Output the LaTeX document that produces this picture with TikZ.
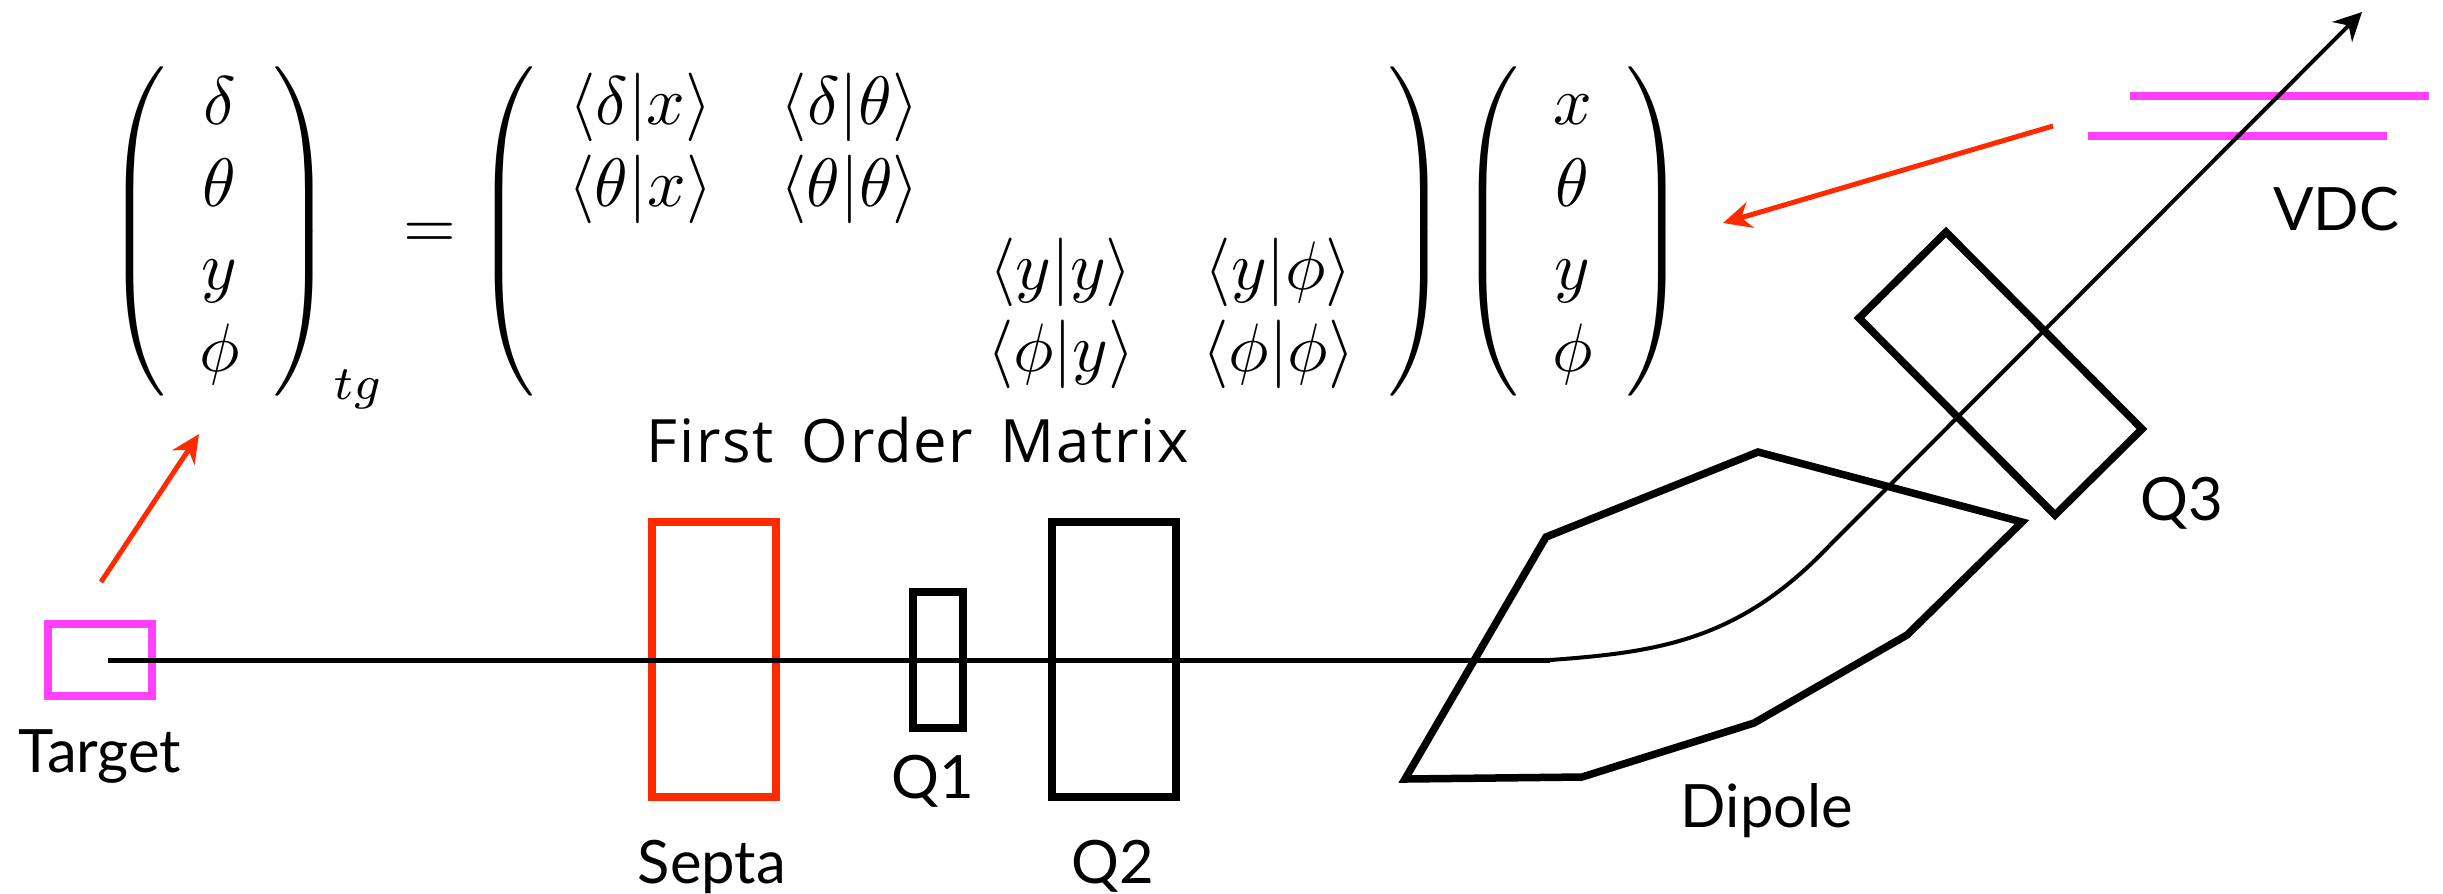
\documentclass[tikz,border=0pt]{standalone}
\usepackage{amsmath}
\usepackage[no-math]{fontspec}
\setmainfont{Lato}
\newfontfamily\handfont[LetterSpace=3,WordSpace=1.6]{Open Sans}
\usepackage{tikz}
\usetikzlibrary{arrows.meta}
\definecolor{septared}{HTML}{FF2A00}
\definecolor{tgmagenta}{HTML}{FF40FF}
\tikzset{
  % --- boxes and labels --------------------------------------------------
  magnet/.style  ={rectangle, draw, line width=0.08cm, inner sep=0, fill=none},
  poly/.style    ={draw, line width=0.075cm, line join=miter},
  lab/.style     ={font=\fontsize{17}{20}\selectfont, anchor=base, inner sep=0},
  hand/.style    ={font=\handfont\fontsize{17}{20}\selectfont, anchor=base, inner sep=0},
  eqn/.style     ={xscale=1.927, yscale=1.95, inner sep=0, anchor=west},
  plate/.style   ={draw=tgmagenta, line width=0.08cm},
  % --- arrows ------------------------------------------------------------
  beam/.style    ={line width=0.05cm},
  ray/.style     ={line width=0.04cm},
  redarrow/.style={-{Stealth[length=8pt, width=7.5pt]}, draw=septared, line width=0.05cm},
}

\begin{document}
\begin{tikzpicture}[x=0.01cm, y=-0.01cm]
  \useasboundingbox (0,0) rectangle (2443,893);

  % ============================ transfer equation ============================
  \node[eqn] (eq) at (105,238) {$\left(\begin{array}{c} \delta\\ \theta\\ y\\ \phi \end{array}\right)_{tg}
    = \left(\begin{array}{cccc}
      \langle\delta|x\rangle & \langle\delta|\theta\rangle & & \\
      \langle\theta|x\rangle & \langle\theta|\theta\rangle & & \\
      & & \langle y|y\rangle & \langle y|\phi\rangle \\
      & & \langle\phi|y\rangle & \langle\phi|\phi\rangle
    \end{array}\right)
    \left(\begin{array}{c} x\\ \theta\\ y\\ \phi \end{array}\right)$};
  \node[hand] (fom) at (918,462) {First Order Matrix};

  % ============================ straight section ============================
  \node[magnet, draw=tgmagenta, minimum width=1.04cm, minimum height=0.72cm] (target) at (100,660) {};
  \node[magnet, draw=septared, minimum width=1.24cm, minimum height=2.75cm] (septa) at (714,659.5) {};
  \node[magnet, minimum width=0.50cm, minimum height=1.36cm] (q1) at (938,660) {};
  \node[magnet, minimum width=1.24cm, minimum height=2.75cm] (q2) at (1114,659.5) {};

  \node[lab] (tlab) at (100,772) {Target};
  \node[lab] (slab) at (712,883) {Septa};
  \node[lab] (q1lab) at (933,798) {Q1};
  \node[lab] (q2lab) at (1113,883) {Q2};

  % ============================ dipole + Q3 ============================
  \coordinate (d1) at (1546,537);
  \coordinate (d2) at (1758,452);
  \coordinate (d3) at (2022,522);
  \coordinate (d4) at (1907,635);
  \coordinate (d5) at (1754,723);
  \coordinate (d6) at (1582,777);
  \coordinate (d7) at (1405,779);
  \draw[poly] (d1) -- (d2) -- (d3) -- (d4) -- (d5) -- (d6) -- (d7) -- cycle;
  \node[lab] (dlab) at (1767,827) {Dipole};

  \draw[poly] (1946,232) -- (2142,429) -- (2055,515) -- (1859,318) -- cycle;
  \node[lab] (q3lab) at (2182,520) {Q3};

  % ============================ VDC plates ============================
  \draw[plate] (2130,96) -- (2429,96);
  \draw[plate] (2088,136) -- (2387,136);
  \node[lab] (vlab) at (2336,230) {VDC};

  % ============================ central ray ============================
  \coordinate (ray0) at (108,660);
  \coordinate (bend0) at (1550,660);
  \coordinate (bend1) at (1830,545);
  \coordinate (rayend) at (2362,12);
  \draw[beam] (ray0) -- (bend0);
  \draw[ray] (bend0) .. controls (1660,652) and (1740,640) .. (bend1);
  \draw[ray, -{Stealth[length=8pt, width=8pt]}] (bend1) -- (rayend);

  % ============================ red pointers ============================
  \coordinate (ptga) at (101,582);
  \coordinate (ptgb) at (199,434);
  \coordinate (pvdca) at (2053,126);
  \coordinate (pvdcb) at (1723,223);
  \draw[redarrow] (ptga) -- (ptgb);
  \draw[redarrow] (pvdca) -- (pvdcb);

\end{tikzpicture}
\end{document}
